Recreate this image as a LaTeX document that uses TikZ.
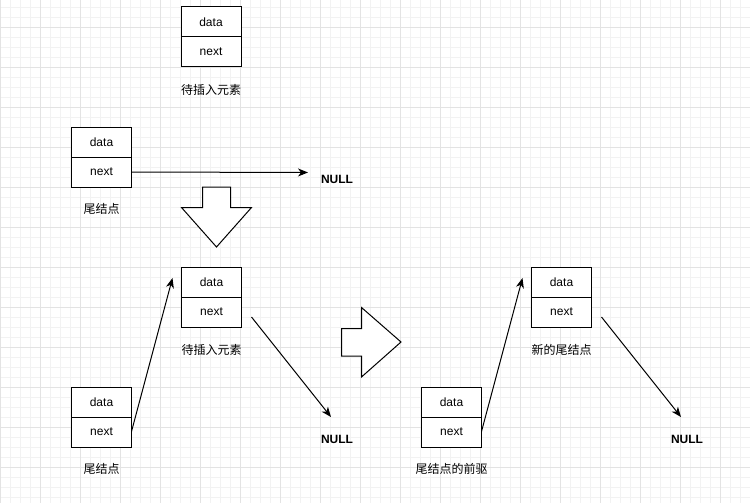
\documentclass[tikz,border=0pt]{standalone}
\usepackage{fontspec}
\setmainfont{Liberation Sans}
\newfontfamily\cjk{Noto Sans CJK SC}
\usetikzlibrary{arrows.meta}
\tikzset{
  cell/.style={draw=black, line width=1pt, minimum width=60pt, minimum height=30pt, inner sep=0pt, font=\fontsize{12}{14}\selectfont, fill=white},
  lbl/.style={inner sep=0pt, font=\cjk\fontsize{12}{14}\selectfont},
  nulltxt/.style={inner sep=0pt, font=\bfseries\fontsize{12}{14}\selectfont},
  link/.style={draw=black, line width=1pt, -{Stealth[length=10pt,width=8pt,inset=3pt]}},
  bigarrow/.style={draw=black, line width=1pt, fill=white, line join=miter},
  minorgrid/.style={draw=black!5, line width=0.6pt},
  majorgrid/.style={draw=black!11, line width=0.8pt}
}
\begin{document}
\begin{tikzpicture}[x=1pt, y=-1pt]
\useasboundingbox (0,0) rectangle (750,503);
\fill[white] (0,0) rectangle (750,503);
% grid
\foreach \gx in {0,10,...,750} {\draw[minorgrid] (\gx,0) -- (\gx,503);}
\foreach \gy in {7,17,...,503} {\draw[minorgrid] (0,\gy) -- (750,\gy);}
\foreach \gx in {0,40,...,750} {\draw[majorgrid] (\gx,0) -- (\gx,503);}
\foreach \gy in {27,67,...,503} {\draw[majorgrid] (0,\gy) -- (750,\gy);}

% top: element to insert
\node[cell] (insD) at (211,22) {data};
\node[cell] (insN) at (211,52) {next};
\node[lbl] (insL) at (211,90) {待插入元素};

% tail node (before)
\node[cell] (tailD) at (101.5,142) {data};
\node[cell] (tailN) at (101.5,172) {next};
\node[lbl] (tailL) at (101.5,209) {尾结点};
\node[nulltxt] (null1) at (337,179.5) {NULL};
\coordinate (e1) at (308,172.5);
\draw[link] (tailN.east) -- (e1);

% down arrow
\draw[bigarrow] (202.5,187) -- (230.5,187) -- (230.5,207.5) -- (251.5,207.5) -- (216.5,247) -- (181.5,207.5) -- (202.5,207.5) -- cycle;

% middle: after insertion (left)
\node[cell] (midD) at (211.5,282) {data};
\node[cell] (midN) at (211.5,312) {next};
\node[lbl] (midL) at (211.5,350) {待插入元素};
\node[cell] (t2D) at (101.5,402) {data};
\node[cell] (t2N) at (101.5,432) {next};
\node[lbl] (t2L) at (101.5,469) {尾结点};
\node[nulltxt] (null2) at (337,439.5) {NULL};
\coordinate (s2) at (131.5,431.5);
\coordinate (e2) at (172.5,278);
\draw[link] (s2) -- (e2);
\coordinate (s3) at (251.5,317);
\coordinate (e3) at (331,417);
\draw[link] (s3) -- (e3);

% right arrow
\draw[bigarrow] (341.5,328.5) -- (361.5,328.5) -- (361.5,307.5) -- (401,342) -- (361.5,377) -- (361.5,356) -- (341.5,356) -- cycle;

% right: result
\node[cell] (newD) at (561.5,282) {data};
\node[cell] (newN) at (561.5,312) {next};
\node[lbl] (newL) at (561.5,350) {新的尾结点};
\node[cell] (preD) at (451.5,402) {data};
\node[cell] (preN) at (451.5,432) {next};
\node[lbl] (preL) at (451.5,469) {尾结点的前驱};
\node[nulltxt] (null3) at (687,439.5) {NULL};
\coordinate (s4) at (481.5,431.5);
\coordinate (e4) at (522.5,278);
\draw[link] (s4) -- (e4);
\coordinate (s5) at (601.5,317);
\coordinate (e5) at (681,417);
\draw[link] (s5) -- (e5);
\end{tikzpicture}
\end{document}
